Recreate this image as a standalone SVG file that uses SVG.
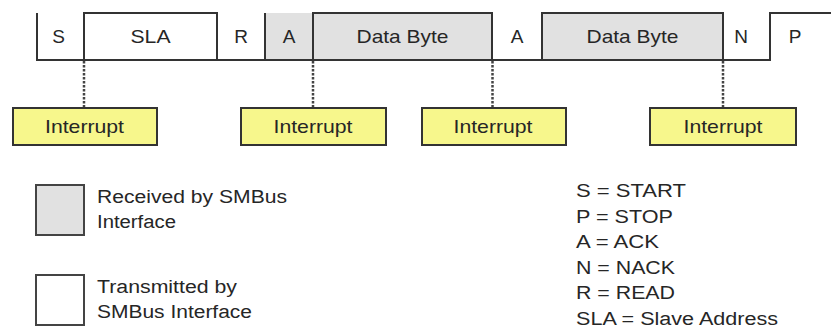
<svg xmlns="http://www.w3.org/2000/svg" width="831" height="329" viewBox="0 0 831 329">
<style>
text{font-family:"Liberation Sans",Arial,sans-serif;fill:#262626}
.lbl{font-size:19px;text-anchor:middle}
.int{font-size:19px;text-anchor:middle}
.leg{font-size:18px}
.ln{stroke:#333;stroke-width:2;fill:none}
.rx{fill:#e1e1e1}
.ibox{fill:#f7f78c;stroke:#333;stroke-width:2}
.dot{stroke:#444;stroke-width:2.5;stroke-dasharray:2.5 1.5;fill:none}
</style>
<rect width="831" height="329" fill="#fff"/>
<g id="frame">
  <rect class="rx" x="265" y="13" width="48" height="47"/>
  <rect class="rx" x="313" y="13" width="179" height="47"/>
  <rect class="rx" x="542" y="13" width="181" height="47"/>
  <path class="ln" d="M37 13V60H770V13H831"/>
  <path class="ln" d="M84 60V13H217V60"/>
  <path class="ln" d="M265 60V13"/>
  <path class="ln" d="M313 60V13H492V60"/>
  <path class="ln" d="M542 60V13H723V60"/>
</g>
<g id="field-S"><text class="lbl" x="58.5" y="43">S</text></g>
<g id="field-SLA"><text class="lbl" x="150.5" y="43" textLength="40" lengthAdjust="spacingAndGlyphs">SLA</text></g>
<g id="field-R"><text class="lbl" x="241" y="43">R</text></g>
<g id="field-A1"><text class="lbl" x="289" y="43">A</text></g>
<g id="field-Data1"><text class="lbl" x="402.5" y="43" textLength="92" lengthAdjust="spacingAndGlyphs">Data Byte</text></g>
<g id="field-A2"><text class="lbl" x="517" y="43">A</text></g>
<g id="field-Data2"><text class="lbl" x="632.5" y="43" textLength="92" lengthAdjust="spacingAndGlyphs">Data Byte</text></g>
<g id="field-N"><text class="lbl" x="741" y="43">N</text></g>
<g id="field-P"><text class="lbl" x="795" y="43">P</text></g>
<g id="connectors">
  <path class="dot" d="M84 61V108"/>
  <path class="dot" d="M313 61V108"/>
  <path class="dot" d="M492.5 61V108"/>
  <path class="dot" d="M723 61V108"/>
</g>
<g id="int1"><rect class="ibox" x="13" y="108" width="144" height="37"/><text class="int" x="84.5" y="133" textLength="79" lengthAdjust="spacingAndGlyphs">Interrupt</text></g>
<g id="int2"><rect class="ibox" x="241" y="108" width="145" height="37"/><text class="int" x="313" y="133" textLength="79" lengthAdjust="spacingAndGlyphs">Interrupt</text></g>
<g id="int3"><rect class="ibox" x="422" y="108" width="144" height="37"/><text class="int" x="493" y="133" textLength="79" lengthAdjust="spacingAndGlyphs">Interrupt</text></g>
<g id="int4"><rect class="ibox" x="650" y="108" width="146" height="37"/><text class="int" x="723" y="133" textLength="79" lengthAdjust="spacingAndGlyphs">Interrupt</text></g>
<g id="legend-received">
  <rect x="36" y="185" width="48" height="50" fill="#e1e1e1" stroke="#444" stroke-width="2"/>
  <text class="leg" x="97" y="203" textLength="190" lengthAdjust="spacingAndGlyphs">Received by SMBus</text>
  <text class="leg" x="97" y="228" textLength="79" lengthAdjust="spacingAndGlyphs">Interface</text>
</g>
<g id="legend-transmitted">
  <rect x="36" y="275" width="48" height="50" fill="#fff" stroke="#444" stroke-width="2"/>
  <text class="leg" x="97" y="293" textLength="140" lengthAdjust="spacingAndGlyphs">Transmitted by</text>
  <text class="leg" x="97" y="318" textLength="155" lengthAdjust="spacingAndGlyphs">SMBus Interface</text>
</g>
<g id="legend-abbrev">
  <text class="leg" x="576" y="197" textLength="110" lengthAdjust="spacingAndGlyphs">S = START</text>
  <text class="leg" x="576" y="223" textLength="97" lengthAdjust="spacingAndGlyphs">P = STOP</text>
  <text class="leg" x="576" y="248" textLength="83" lengthAdjust="spacingAndGlyphs">A = ACK</text>
  <text class="leg" x="576" y="274" textLength="99" lengthAdjust="spacingAndGlyphs">N = NACK</text>
  <text class="leg" x="576" y="299" textLength="99" lengthAdjust="spacingAndGlyphs">R = READ</text>
  <text class="leg" x="576" y="325" textLength="202" lengthAdjust="spacingAndGlyphs">SLA = Slave Address</text>
</g>
</svg>
